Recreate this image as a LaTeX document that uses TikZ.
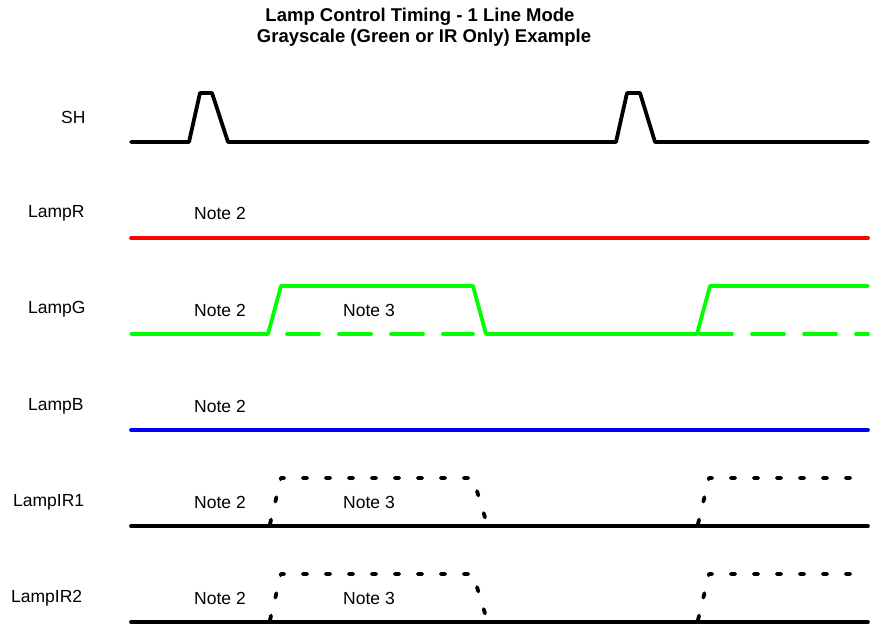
\documentclass[tikz,border=0pt]{standalone}
\usepackage{fontspec}
\setmainfont{Liberation Sans}
\definecolor{sigred}{RGB}{255,0,0}
\definecolor{siggreen}{RGB}{0,255,0}
\definecolor{sigblue}{RGB}{0,0,255}
\begin{document}
\begin{tikzpicture}[x=1pt,y=-1pt,
  sig/.style={line width=3.8pt, line join=round, line cap=round},
  dashsig/.style={sig, dash pattern=on 32pt off 20pt},
  dotsig/.style={sig, dash pattern=on 4.5pt off 18.5pt},
  lbl/.style={font=\fontsize{17.5}{19}\selectfont, inner sep=0pt, anchor=west},
  ttl/.style={font=\bfseries\fontsize{18.5}{20}\selectfont, inner sep=0pt}]
\useasboundingbox (0,0) rectangle (870,628);
% title
\node[ttl] (t1) at (420,17) {Lamp Control Timing - 1 Line Mode};
\node[ttl] (t2) at (424,38) {Grayscale (Green or IR Only) Example};
% signal names
\node[lbl] (lsh) at (61,117) {SH};
\node[lbl] (lr) at (28,213) {LampR};
\node[lbl] (lg) at (28,309) {LampG};
\node[lbl] (lb) at (28,406) {LampB};
\node[lbl] (lir1) at (13,502) {LampIR1};
\node[lbl] (lir2) at (11,598) {LampIR2};
% notes
\node[lbl] (nr) at (194,213) {Note 2};
\node[lbl] (ng) at (194,310) {Note 2};
\node[lbl] (ng3) at (343,310) {Note 3};
\node[lbl] (nb) at (194,406) {Note 2};
\node[lbl] (ni1) at (194,502) {Note 2};
\node[lbl] (ni13) at (343,502) {Note 3};
\node[lbl] (ni2) at (194,598) {Note 2};
\node[lbl] (ni23) at (343,598) {Note 3};
% SH
\draw[sig] (131,142) -- (189,142) -- (200,93) -- (212,93) -- (228,142) -- (616,142) -- (627,93) -- (640,93) -- (655,142) -- (868,142);
% LampR
\draw[sig, sigred] (131,238) -- (868,238);
% LampG
\draw[sig, siggreen] (131,334) -- (268,334) -- (281,286) -- (473,286) -- (486,334) -- (697,334) -- (710,286) -- (868,286);
\draw[dashsig, siggreen] (287,334) -- (473,334);
\draw[dashsig, siggreen] (700,334) -- (868,334);
% LampB
\draw[sig, sigblue] (131,430) -- (868,430);
% LampIR1
\draw[sig] (131,526) -- (868,526);
\draw[dotsig] (270,524) -- (281,478) -- (473,478) -- (487,524);
\draw[dotsig] (698,524) -- (709,478) -- (868,478);
% LampIR2
\draw[sig] (131,622) -- (868,622);
\draw[dotsig] (270,620) -- (281,574) -- (473,574) -- (487,620);
\draw[dotsig] (698,620) -- (709,574) -- (868,574);
\end{tikzpicture}
\end{document}
